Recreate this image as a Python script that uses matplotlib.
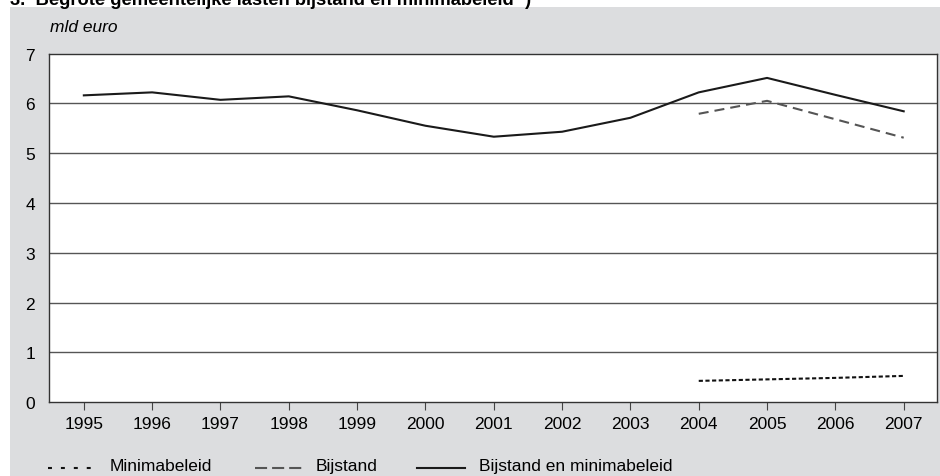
import matplotlib
matplotlib.use("Agg")
import matplotlib.pyplot as plt
from matplotlib.patches import Rectangle
from matplotlib.lines import Line2D

years = list(range(1995, 2008))
totaal = [6.16, 6.22, 6.07, 6.14, 5.86, 5.55, 5.33, 5.43, 5.71, 6.22, 6.51, 6.17, 5.84]
years_b = [2004, 2005, 2006, 2007]
bijstand = [5.79, 6.05, 5.68, 5.31]
minima = [0.43, 0.46, 0.49, 0.53]
yticks = [0, 1, 2, 3, 4, 5, 6, 7]
title = "3.  Begrote gemeentelijke lasten bijstand en minimabeleid \u00b9)"
legend_labels = ["Minimabeleid", "Bijstand", "Bijstand en minimabeleid"]

plt.rcParams['font.family'] = ['Liberation Sans', 'DejaVu Sans']

W, H = 940, 477
fig = plt.figure(figsize=(W/100, H/100), dpi=100)
fig.patch.set_facecolor('white')
bg = Rectangle((10/W, 0), 1 - 10/W, 1 - 7.5/H, transform=fig.transFigure,
               facecolor='#dcdddf', edgecolor='none', zorder=0)
fig.add_artist(bg)
fig.text(10/W, 1 - 5/H, title, fontsize=13.2, fontweight='bold', va='baseline', ha='left')

left, right, top, bottom = 49, 936.5, 54.5, 403.3
ax = fig.add_axes([left/W, 1 - bottom/H, (right-left)/W, (bottom-top)/H])
ax.set_facecolor('white')
ax.set_xlim(1994.49, 2007.48)
ax.set_ylim(0, 7)
ax.set_yticks(yticks)
ax.set_xticks(years)
ax.tick_params(axis='y', length=0, pad=10, labelsize=12.5)
ax.tick_params(axis='x', length=6, width=0.8, color='#444444', pad=4, labelsize=12.5)
for yv in yticks[1:-1]:
    ax.axhline(yv, color='#555555', lw=1.0, zorder=1)
for s in ax.spines.values():
    s.set_color('#333333')
    s.set_linewidth(1.0)

ax.plot(years_b, minima, color='#111111', lw=1.5, linestyle=(0, (2.0, 1.2)), zorder=3)
ax.plot(years_b, bijstand, color='#555555', lw=1.5, linestyle=(0, (4.8, 2.9)), zorder=3)
ax.plot(years, totaal, color='#1a1a1a', lw=1.5, zorder=4)

fig.text(50/W, 1 - 27/H, "mld euro", fontsize=12.5, style='italic', va='center', ha='left')

# legend
ly = 1 - 467/H
styles = [dict(color='#111111', lw=1.5, linestyle=(0, (1.9, 4.3))),
          dict(color='#555555', lw=1.5, linestyle=(0, (5.8, 2.4))),
          dict(color='#1a1a1a', lw=1.5)]
segs = [(48, 93, 110), (255, 302, 316), (417, 465, 479)]
for (x0, x1, xt), st, lab in zip(segs, styles, legend_labels):
    fig.add_artist(Line2D([x0/W, x1/W], [ly - 1.5/H, ly - 1.5/H], transform=fig.transFigure, **st))
    fig.text(xt/W, ly, lab, fontsize=12.5, va='center', ha='left')

fig.savefig('out.png', dpi=100, facecolor=fig.get_facecolor())
